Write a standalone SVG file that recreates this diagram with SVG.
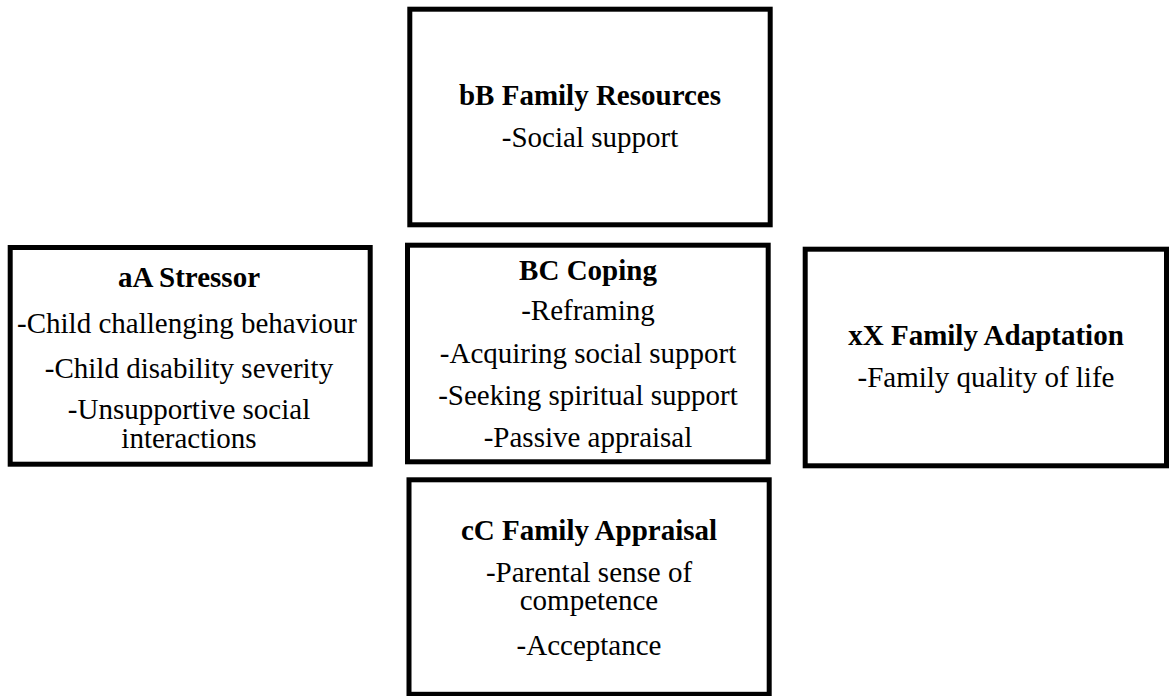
<svg xmlns="http://www.w3.org/2000/svg" width="1169" height="696" viewBox="0 0 1169 696">
<style>
.box{fill:#fff;stroke:#000;stroke-width:5}
text{font-family:"Liberation Serif","Times New Roman",serif;font-size:29px;fill:#000;text-anchor:middle}
.t{font-weight:bold}
</style>
<rect x="0" y="0" width="1169" height="696" fill="#fff"/>
<g id="connectors"></g>
<g id="resources">
<rect class="box" x="409.8" y="9.2" width="360.4" height="215.6"/>
<text class="t" x="590" y="105">bB Family Resources</text>
<text x="590" y="147">-Social support</text>
</g>
<g id="stressor">
<rect class="box" x="10.2" y="247.5" width="360" height="216.7"/>
<text class="t" x="189" y="286.7">aA Stressor</text>
<text x="187" y="332.7">-Child challenging behaviour</text>
<text x="189" y="377.7">-Child disability severity</text>
<text x="189" y="419.3">-Unsupportive social</text>
<text x="189" y="448.3">interactions</text>
</g>
<g id="coping">
<rect class="box" x="407.5" y="245.2" width="360.7" height="216.6"/>
<text class="t" x="588" y="280">BC Coping</text>
<text x="588" y="320">-Reframing</text>
<text x="588" y="363.3">-Acquiring social support</text>
<text x="588" y="405">-Seeking spiritual support</text>
<text x="588" y="446.7">-Passive appraisal</text>
</g>
<g id="adaptation">
<rect class="box" x="805.2" y="249.2" width="361.3" height="216.6"/>
<text class="t" x="986" y="345">xX Family Adaptation</text>
<text x="986" y="386.7">-Family quality of life</text>
</g>
<g id="appraisal">
<rect class="box" x="409" y="479.8" width="360.2" height="214.5"/>
<text class="t" x="589" y="540">cC Family Appraisal</text>
<text x="589" y="581.7">-Parental sense of</text>
<text x="589" y="610">competence</text>
<text x="589" y="655">-Acceptance</text>
</g>
</svg>
